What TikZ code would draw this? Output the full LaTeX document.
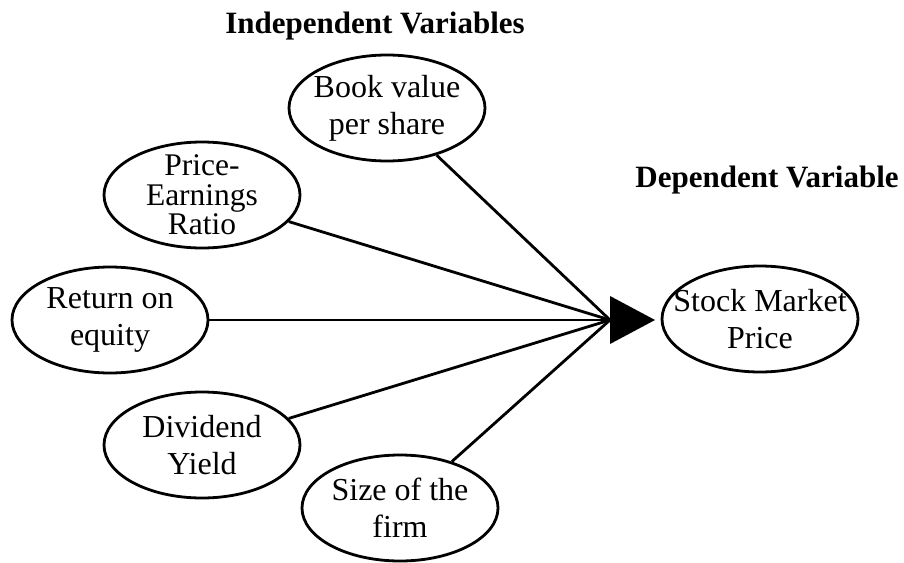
\documentclass[tikz,border=0pt]{standalone}
\usepackage{fontspec}
\setmainfont{Liberation Serif}
\usetikzlibrary{shapes.geometric,arrows.meta}
\begin{document}
\begin{tikzpicture}[x=1pt,y=-1pt,
  el/.style={draw,ellipse,line width=2.8pt,minimum width=196pt,minimum height=106pt,inner sep=0pt},
  lbl/.style={align=center,inner sep=0pt,font=\fontsize{32}{37}\selectfont},
  tight/.style={align=center,inner sep=0pt,font=\fontsize{31.5}{29.5}\selectfont},
  ttl/.style={inner sep=0pt,font=\fontsize{31}{36}\selectfont\bfseries,anchor=base},
  conn/.style={line width=2.8pt}]
\useasboundingbox (0,0) rectangle (904,562);
\node[ttl] (ti) at (375,33) {Independent Variables};
\node[ttl] (td) at (767,187) {Dependent Variable};
\node[el,label={[lbl]center:{Book value\\per share}}] (bv) at (387,108) {};
\node[el,label={[tight]center:{Price-\\Earnings\\Ratio}}] (pe) at (202,195) {};
\node[el,label={[lbl]center:{Return on\\equity}}] (roe) at (110,320) {};
\node[el,label={[lbl]center:{Dividend\\Yield}}] (dy) at (202,445) {};
\node[el,label={[lbl]center:{Size of the\\firm}}] (sf) at (400,508) {};
\node[el,label={[lbl]center:{Stock Market\\Price}}] (smp) at (760,319) {};
\coordinate (hub) at (610,320);
\coordinate (tip) at (655,320);
\draw[conn] (bv) -- (hub);
\draw[conn] (pe) -- (hub);
\draw[conn] (roe.east) -- (hub);
\draw[conn] (dy) -- (hub);
\draw[conn] (sf) -- (hub);
\fill (hub) ++(0,-24) -- ++(0,48) -- (tip) -- cycle;
\end{tikzpicture}
\end{document}
